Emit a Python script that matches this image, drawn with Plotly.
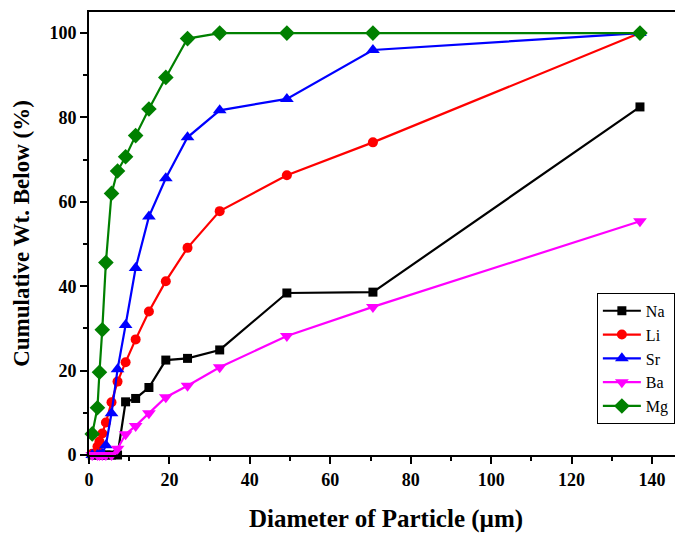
import plotly.graph_objects as go

diameter = [0.8, 2.1, 2.6, 3.3, 4.2, 5.6, 7.1, 9.1, 11.6, 14.9, 19.1, 24.5, 32.5, 49.2, 70.6, 137.0]

na = [0, 0, 0, 0, 0, 0, 0, 12.6, 13.4, 16.0, 22.5, 22.9, 24.9, 38.4, 38.6, 82.5]
li = [0.3, 2.0, 3.2, 5.1, 7.7, 12.5, 17.4, 22.0, 27.4, 34.0, 41.2, 49.1, 57.8, 66.3, 74.1, 100]
sr = [0, 0, 0, 0.3, 2.3, 9.9, 20.3, 30.8, 44.3, 56.5, 65.6, 75.3, 81.7, 84.4, 96.0, 100]
ba = [0, 0, 0, 0, 0, 0, 1.5, 4.9, 6.9, 9.9, 13.7, 16.4, 20.8, 28.2, 35.1, 55.4]
mg = [5.0, 11.2, 19.6, 29.7, 45.6, 62.0, 67.3, 70.7, 75.7, 82.0, 89.5, 98.7, 100, 100, 100, 100]

series = [
    ("Na", na, "#000000", "square", 9),
    ("Li", li, "#FF0000", "circle", 10),
    ("Sr", sr, "#0000FF", "triangle-up", 12),
    ("Ba", ba, "#FF00FF", "triangle-down", 12),
    ("Mg", mg, "#008000", "diamond", 12),
]

fig = go.Figure()
for name, vals, color, sym, msize in series:
    fig.add_trace(go.Scatter(
        x=diameter, y=vals, name=name, mode="lines+markers",
        line=dict(color=color, width=2.2),
        marker=dict(symbol=sym, size=msize, color=color),
        cliponaxis=False,
    ))

font_family = "Liberation Serif"
fig.update_layout(
    width=675, height=525,
    margin=dict(l=81, r=0, t=4, b=78, autoexpand=False),
    plot_bgcolor="white", paper_bgcolor="white",
    font=dict(family=font_family, color="black"),
    legend=dict(
        x=0.855, y=0.366, xanchor="left", yanchor="top",
        bgcolor="white", bordercolor="black", borderwidth=1,
        font=dict(family=font_family, size=16, color="black"),
        tracegroupgap=0, itemwidth=38,
    ),
    xaxis=dict(
        range=[0, 147.7], tickmode="linear", tick0=0, dtick=20,
        ticks="outside", ticklen=7, tickwidth=2, tickcolor="black",
        showline=True, linewidth=2, linecolor="black", mirror=True,
        showgrid=False, zeroline=False, automargin=False,
        tickfont=dict(family=font_family, size=18, color="black", weight="bold"),
        minor=dict(dtick=10, ticks="outside", ticklen=4, tickwidth=2, tickcolor="black", showgrid=False),
        title=dict(text="<b>Diameter of Particle (µm)</b>", font=dict(family=font_family, size=25, color="black"), standoff=21),
    ),
    yaxis=dict(
        range=[0, 105], tickmode="linear", tick0=0, dtick=20,
        ticks="outside", ticklen=7, tickwidth=2, tickcolor="black",
        showline=True, linewidth=2, linecolor="black", mirror=False,
        showgrid=False, zeroline=False, automargin=False,
        tickfont=dict(family=font_family, size=18, color="black", weight="bold"),
        minor=dict(dtick=10, ticks="outside", ticklen=4, tickwidth=2, tickcolor="black", showgrid=False),
        title=dict(text="<b>Cumulative Wt. Below (%)</b>", font=dict(family=font_family, size=23, color="black"), standoff=13),
    ),
)

fig.write_html("out.html")
